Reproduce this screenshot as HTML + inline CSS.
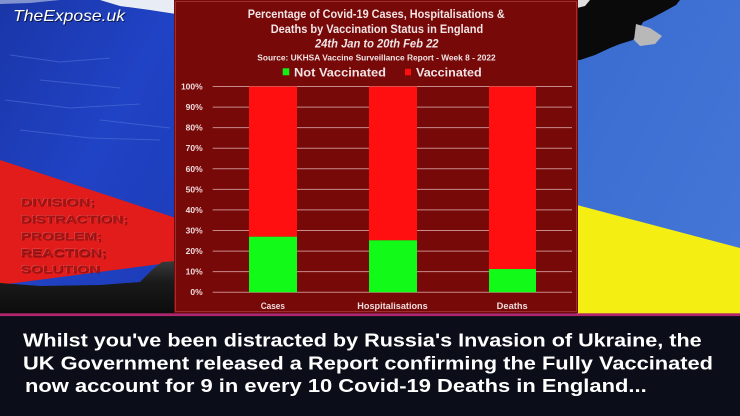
<!DOCTYPE html>
<html><head><meta charset="utf-8"><style>
html,body{margin:0;padding:0;background:#0b0d18;}
svg{display:block;}
text{font-family:"Liberation Sans",sans-serif;}
</style></head><body>
<svg width="740" height="416" viewBox="0 0 740 416" xmlns="http://www.w3.org/2000/svg">
<defs>
<linearGradient id="rb" x1="0" y1="0" x2="1" y2="1">
<stop offset="0" stop-color="#1a36a8"/><stop offset="0.5" stop-color="#2042c4"/><stop offset="1" stop-color="#1c3cb8"/>
</linearGradient>
<linearGradient id="blk" x1="0" y1="0" x2="0" y2="1">
<stop offset="0" stop-color="#3a3a3a"/><stop offset="0.4" stop-color="#1a1a1a"/><stop offset="1" stop-color="#0c0c0c"/>
</linearGradient>
<linearGradient id="ub" x1="0" y1="0" x2="1" y2="1">
<stop offset="0" stop-color="#3a6cd0"/><stop offset="1" stop-color="#4577d8"/>
</linearGradient>
</defs>
<rect x="0" y="0" width="740" height="416" fill="#0b0d18"/>
<!-- Russian flag left -->
<rect x="0" y="0" width="176" height="314" fill="url(#rb)"/>
<polygon points="100,0 176,0 176,14 150,10 120,6" fill="#e8ecf4"/>
<polygon points="0,0 60,0 30,3 0,4" fill="#c8d0e8" opacity="0.6"/>
<g stroke="#5a7ae0" stroke-width="1" opacity="0.5" fill="none">
<path d="M10,55 L60,62 L110,58"/><path d="M5,100 L70,108 L140,104"/><path d="M20,130 L90,138 L160,140"/><path d="M40,80 L120,88"/><path d="M100,120 L170,128"/>
</g>
<polygon points="0,160 176,218 176,262 0,285" fill="#e21b1b"/>
<polygon points="0,283 40,286 100,285 140,282 152,270 162,262 176,261 176,314 0,314" fill="url(#blk)"/>
<!-- Embossed text -->
<g font-size="10.7" font-weight="bold" fill="#3a0000" opacity="0.55" transform="translate(0.6,0.6)">
<text x="20.7" y="206" textLength="74.3" lengthAdjust="spacingAndGlyphs">DIVISION;</text>
<text x="20.7" y="223" textLength="107.3" lengthAdjust="spacingAndGlyphs">DISTRACTION;</text>
<text x="20.7" y="240" textLength="81" lengthAdjust="spacingAndGlyphs">PROBLEM;</text>
<text x="20.7" y="256.7" textLength="86" lengthAdjust="spacingAndGlyphs">REACTION;</text>
<text x="20.7" y="273" textLength="79.3" lengthAdjust="spacingAndGlyphs">SOLUTION</text>
</g>
<g font-size="10.7" font-weight="bold" fill="#f28080" opacity="0.55" transform="translate(-0.5,-0.5)">
<text x="20.7" y="206" textLength="74.3" lengthAdjust="spacingAndGlyphs">DIVISION;</text>
<text x="20.7" y="223" textLength="107.3" lengthAdjust="spacingAndGlyphs">DISTRACTION;</text>
<text x="20.7" y="240" textLength="81" lengthAdjust="spacingAndGlyphs">PROBLEM;</text>
<text x="20.7" y="256.7" textLength="86" lengthAdjust="spacingAndGlyphs">REACTION;</text>
<text x="20.7" y="273" textLength="79.3" lengthAdjust="spacingAndGlyphs">SOLUTION</text>
</g>
<g font-size="10.7" font-weight="bold" fill="#a51616">
<text x="20.7" y="206" textLength="74.3" lengthAdjust="spacingAndGlyphs">DIVISION;</text>
<text x="20.7" y="223" textLength="107.3" lengthAdjust="spacingAndGlyphs">DISTRACTION;</text>
<text x="20.7" y="240" textLength="81" lengthAdjust="spacingAndGlyphs">PROBLEM;</text>
<text x="20.7" y="256.7" textLength="86" lengthAdjust="spacingAndGlyphs">REACTION;</text>
<text x="20.7" y="273" textLength="79.3" lengthAdjust="spacingAndGlyphs">SOLUTION</text>
</g>
<!-- logo -->
<text x="14" y="22" font-size="16" font-style="italic" fill="#000" opacity="0.6" textLength="112" lengthAdjust="spacingAndGlyphs">TheExpose.uk</text>
<text x="13" y="21" font-size="16" font-style="italic" fill="#ffffff" textLength="112" lengthAdjust="spacingAndGlyphs">TheExpose.uk</text>
<!-- Ukraine flag right -->
<rect x="577" y="0" width="163" height="314" fill="url(#ub)"/>
<polygon points="577,205 740,248 740,314 577,314" fill="#f5ee12"/>
<polygon points="577,0 680,0 676,5 667,10 652,18 643,22 636,35 633,40 620,44 610,48 595,55 580,60 577,60" fill="#0a0a0a"/>
<polygon points="636,24 650,28 662,36 655,44 640,46 634,40" fill="#b8b8b8"/>
<polygon points="577,0 590,0 585,6 577,8" fill="#e0e0e0"/>
<!-- chart panel -->
<rect x="174" y="0" width="404" height="313" fill="#770909"/>
<rect x="175.5" y="1.5" width="401" height="310" fill="none" stroke="#9a3030" stroke-width="1"/>
<!-- title -->
<g fill="#f2e4e4" font-weight="bold">
<text x="247.7" y="18" font-size="11.5" textLength="257" lengthAdjust="spacingAndGlyphs">Percentage of Covid-19 Cases, Hospitalisations &amp;</text>
<text x="270.7" y="33" font-size="11.5" textLength="212.5" lengthAdjust="spacingAndGlyphs">Deaths by Vaccination Status in England</text>
<text x="315" y="47.5" font-size="11.5" font-style="italic" textLength="123.5" lengthAdjust="spacingAndGlyphs">24th Jan to 20th Feb 22</text>
<text x="257.3" y="60.5" font-size="7.8" textLength="238.4" lengthAdjust="spacingAndGlyphs">Source: UKHSA Vaccine Surveillance Report - Week 8 - 2022</text>
</g>
<!-- legend -->
<rect x="282.7" y="68.3" width="6.6" height="7" fill="#14ee14"/>
<text x="294" y="76.5" font-size="12" font-weight="bold" fill="#f2e4e4" textLength="92" lengthAdjust="spacingAndGlyphs">Not Vaccinated</text>
<rect x="405" y="68.8" width="6" height="6.5" fill="#ff1010"/>
<text x="416" y="76.5" font-size="12" font-weight="bold" fill="#f2e4e4" textLength="65.7" lengthAdjust="spacingAndGlyphs">Vaccinated</text>
<!-- gridlines -->
<g stroke="#c88a8a" stroke-width="1">
<line x1="212.7" y1="86.5" x2="572" y2="86.5"/>
<line x1="212.7" y1="107.1" x2="572" y2="107.1"/>
<line x1="212.7" y1="127.6" x2="572" y2="127.6"/>
<line x1="212.7" y1="148.2" x2="572" y2="148.2"/>
<line x1="212.7" y1="168.8" x2="572" y2="168.8"/>
<line x1="212.7" y1="189.4" x2="572" y2="189.4"/>
<line x1="212.7" y1="209.9" x2="572" y2="209.9"/>
<line x1="212.7" y1="230.5" x2="572" y2="230.5"/>
<line x1="212.7" y1="251.1" x2="572" y2="251.1"/>
<line x1="212.7" y1="271.6" x2="572" y2="271.6"/>
<line x1="212.7" y1="292.2" x2="572" y2="292.2"/>
</g>
<!-- y labels -->
<g font-size="8.5" font-weight="bold" fill="#f0dcdc" text-anchor="end">
<text x="202.7" y="89.5">100%</text>
<text x="202.7" y="110.1">90%</text>
<text x="202.7" y="130.6">80%</text>
<text x="202.7" y="151.2">70%</text>
<text x="202.7" y="171.8">60%</text>
<text x="202.7" y="192.4">50%</text>
<text x="202.7" y="212.9">40%</text>
<text x="202.7" y="233.5">30%</text>
<text x="202.7" y="254.1">20%</text>
<text x="202.7" y="274.6">10%</text>
<text x="202.7" y="295.2">0%</text>
</g>
<!-- bars -->
<rect x="249" y="86.5" width="48" height="150.2" fill="#ff0f0f"/>
<rect x="249" y="236.7" width="48" height="55.5" fill="#12fb18"/>
<rect x="369" y="86.5" width="48" height="153.8" fill="#ff0f0f"/>
<rect x="369" y="240.3" width="48" height="51.9" fill="#12fb18"/>
<rect x="489" y="86.5" width="47" height="182.5" fill="#ff0f0f"/>
<rect x="489" y="269" width="47" height="23.2" fill="#12fb18"/>
<!-- category labels -->
<g font-size="9" font-weight="bold" fill="#f0dcdc">
<text x="260.7" y="309" textLength="24.3" lengthAdjust="spacingAndGlyphs">Cases</text>
<text x="357.3" y="309" textLength="70.4" lengthAdjust="spacingAndGlyphs">Hospitalisations</text>
<text x="496.7" y="309" textLength="31" lengthAdjust="spacingAndGlyphs">Deaths</text>
</g>
<!-- magenta separator -->
<rect x="0" y="313.3" width="740" height="2.8" fill="#b0266e"/>
<!-- bottom caption -->
<g font-size="18.5" font-weight="bold" fill="#ffffff">
<text x="23" y="346.7" textLength="678.7" lengthAdjust="spacingAndGlyphs">Whilst you've been distracted by Russia's Invasion of Ukraine, the</text>
<text x="23" y="369.5" textLength="690" lengthAdjust="spacingAndGlyphs">UK Government released a Report confirming the Fully Vaccinated</text>
<text x="25" y="392" textLength="621.7" lengthAdjust="spacingAndGlyphs">now account for 9 in every 10 Covid-19 Deaths in England...</text>
</g>
</svg>
</body></html>
